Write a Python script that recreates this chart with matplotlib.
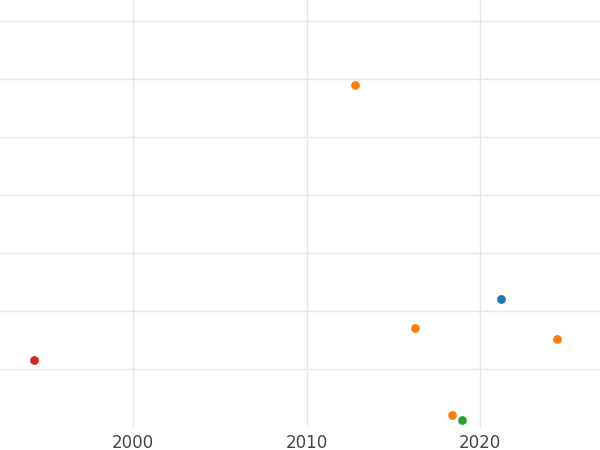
import matplotlib
matplotlib.use("Agg")
import matplotlib.pyplot as plt

years_blue = [2021.2]
vals_blue = [1.21]
years_orange = [2012.8, 2016.25, 2024.4, 2018.4]
vals_orange = [4.90, 0.71, 0.52, -0.79]
years_green = [2018.95]
vals_green = [-0.88]
years_red = [1994.3]
vals_red = [0.16]
xticks = [2000, 2010, 2020]

fig = plt.figure(figsize=(6, 4.5), dpi=100)
ax = fig.add_axes([0, 0.049, 1, 0.951])
for xs, ys, c in [(years_blue, vals_blue, "#1f77b4"), (years_orange, vals_orange, "#ff7f0e"),
                  (years_green, vals_green, "#2ca02c"), (years_red, vals_red, "#d62728")]:
    ax.scatter(xs, ys, s=40, color=c, zorder=3, linewidths=0)
ax.set_xlim(1992.33, 2026.9)
ax.set_ylim(-1.017, 6.36)
ax.set_xticks(xticks)
ax.set_xticklabels([str(t) for t in xticks])
ax.set_yticks(range(0, 7))
ax.set_yticklabels([])
ax.grid(True, color="#e6e6e6", linewidth=1)
ax.set_axisbelow(True)
for s in ax.spines.values():
    s.set_visible(False)
ax.tick_params(length=0, labelsize=12, labelcolor="#444444", pad=4)
fig.savefig("out.png", dpi=100)
